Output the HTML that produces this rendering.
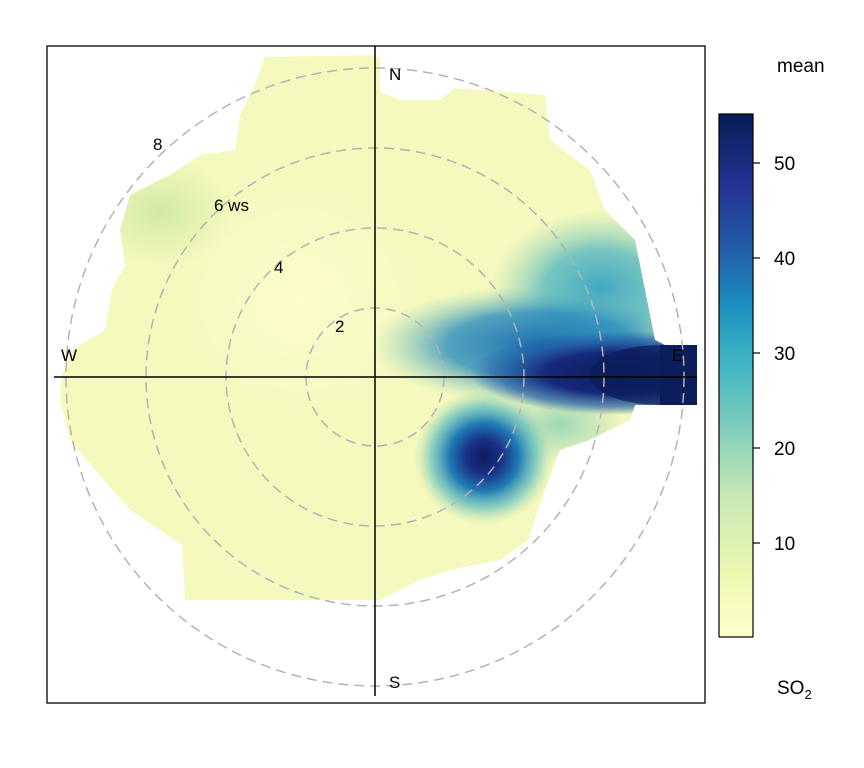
<!DOCTYPE html>
<html><head><meta charset="utf-8"><style>
body{margin:0;background:#fff;}
svg{display:block;font-family:"Liberation Sans",sans-serif;}
</style></head><body>
<svg width="864" height="768" viewBox="0 0 864 768" xmlns="http://www.w3.org/2000/svg">
<defs>
<clipPath id="cp"><path d="M265,57 L372,55 L380,58 L380,92 L400,100 L440,100 L455,88 L545,95 L550,140 L590,170 L605,210 L635,240 L645,290 L655,340 L665,345 L697,345 L697,405 L635,405 L630,420 L590,440 L560,450 L545,490 L528,540 L500,560 L450,570 L420,580 L380,600 L290,600 L265,600 L185,600 L182,545 L130,510 L95,470 L70,440 L60,400 L62,375 L72,350 L105,330 L112,290 L125,265 L120,230 L130,195 L170,175 L200,155 L235,150 L240,115 L255,85 Z"/></clipPath>
<radialGradient id="gGreen"><stop offset="0" stop-color="#d2eaa6"/><stop offset="1" stop-color="#d2eaa6" stop-opacity="0"/></radialGradient>
<radialGradient id="gPale"><stop offset="0" stop-color="#fcfccc"/><stop offset="1" stop-color="#fcfccc" stop-opacity="0"/></radialGradient>
<radialGradient id="gTeal"><stop offset="0" stop-color="#3fa6c4"/><stop offset="0.5" stop-color="#5fbcc0" stop-opacity="0.85"/><stop offset="1" stop-color="#9fd6b6" stop-opacity="0"/></radialGradient>
<radialGradient id="gBlue"><stop offset="0" stop-color="#1d6fb0"/><stop offset="0.55" stop-color="#2b8cbe" stop-opacity="0.8"/><stop offset="1" stop-color="#7fcdbb" stop-opacity="0"/></radialGradient>
<radialGradient id="gLG"><stop offset="0" stop-color="#9ed6b6"/><stop offset="1" stop-color="#9ed6b6" stop-opacity="0"/></radialGradient>
<radialGradient id="gNavy"><stop offset="0" stop-color="#0b1d5a"/><stop offset="0.5" stop-color="#16287a"/><stop offset="0.8" stop-color="#225ea8" stop-opacity="0.7"/><stop offset="1" stop-color="#225ea8" stop-opacity="0"/></radialGradient>
<radialGradient id="gSpot"><stop offset="0" stop-color="#0c1c5e"/><stop offset="0.25" stop-color="#1a2f85"/><stop offset="0.5" stop-color="#1f7ab4"/><stop offset="0.75" stop-color="#5cbcc0" stop-opacity="0.7"/><stop offset="1" stop-color="#a6dab4" stop-opacity="0"/></radialGradient>
<linearGradient id="cb" x1="0" y1="1" x2="0" y2="0">
<stop offset="0" stop-color="#ffffcc"/><stop offset="0.12" stop-color="#edf8b1"/><stop offset="0.27" stop-color="#c7e9b4"/><stop offset="0.4" stop-color="#7fcdbb"/><stop offset="0.52" stop-color="#41b6c4"/><stop offset="0.63" stop-color="#1d91c0"/><stop offset="0.74" stop-color="#225ea8"/><stop offset="0.86" stop-color="#253494"/><stop offset="1" stop-color="#081d58"/>
</linearGradient>
</defs>
<rect x="47" y="46" width="658" height="657" fill="none" stroke="#000" stroke-width="1.3"/>
<g clip-path="url(#cp)">
<rect x="40" y="40" width="670" height="600" fill="#f5f9bd"/>
<ellipse cx="160" cy="212" rx="75" ry="55" fill="url(#gGreen)"/>
<ellipse cx="300" cy="300" rx="130" ry="120" fill="url(#gPale)"/>
<ellipse cx="600" cy="290" rx="110" ry="80" fill="url(#gTeal)"/>
<ellipse cx="540" cy="345" rx="170" ry="60" fill="url(#gBlue)"/>
<ellipse cx="560" cy="425" rx="65" ry="40" fill="url(#gLG)"/>
<ellipse cx="620" cy="373" rx="150" ry="42" fill="url(#gNavy)"/>
<ellipse cx="660" cy="375" rx="70" ry="30" fill="#0b1d5a" opacity="0.7"/>
<rect x="660" y="345" width="40" height="60" fill="#0b1d5a"/>
<ellipse cx="484" cy="457" rx="70" ry="68" fill="url(#gSpot)"/>
</g>
<g fill="none" stroke="#b3b3b3" stroke-width="1.5" stroke-dasharray="10,6">
<circle cx="375" cy="377" r="69"/><circle cx="375" cy="377" r="149"/><circle cx="375" cy="377" r="229"/><circle cx="375" cy="377" r="309"/>
</g>
<line x1="375" y1="46" x2="375" y2="696" stroke="#000" stroke-width="1.5"/>
<line x1="54" y1="377" x2="697" y2="377" stroke="#000" stroke-width="1.5"/>
<g font-size="17" fill="#000">
<text x="389" y="80">N</text><text x="389" y="688">S</text><text x="61" y="361">W</text><text x="672" y="361">E</text>
<text x="335" y="332">2</text><text x="274" y="273">4</text><text x="214" y="211">6 ws</text><text x="153" y="150">8</text>
</g>
<rect x="719" y="114" width="34" height="523" fill="url(#cb)" stroke="#000" stroke-width="1.2"/>
<g stroke="#000" stroke-width="1.2"><line x1="753" y1="543" x2="760" y2="543"/><line x1="753" y1="448" x2="760" y2="448"/><line x1="753" y1="353" x2="760" y2="353"/><line x1="753" y1="258" x2="760" y2="258"/><line x1="753" y1="163" x2="760" y2="163"/></g>
<g font-size="19" fill="#000">
<text x="774" y="550">10</text><text x="774" y="455">20</text><text x="774" y="360">30</text><text x="774" y="265">40</text><text x="774" y="170">50</text>
<text x="777" y="72">mean</text>
<text x="777" y="694">SO<tspan font-size="13" dy="5">2</tspan></text>
</g>
</svg>
</body></html>
